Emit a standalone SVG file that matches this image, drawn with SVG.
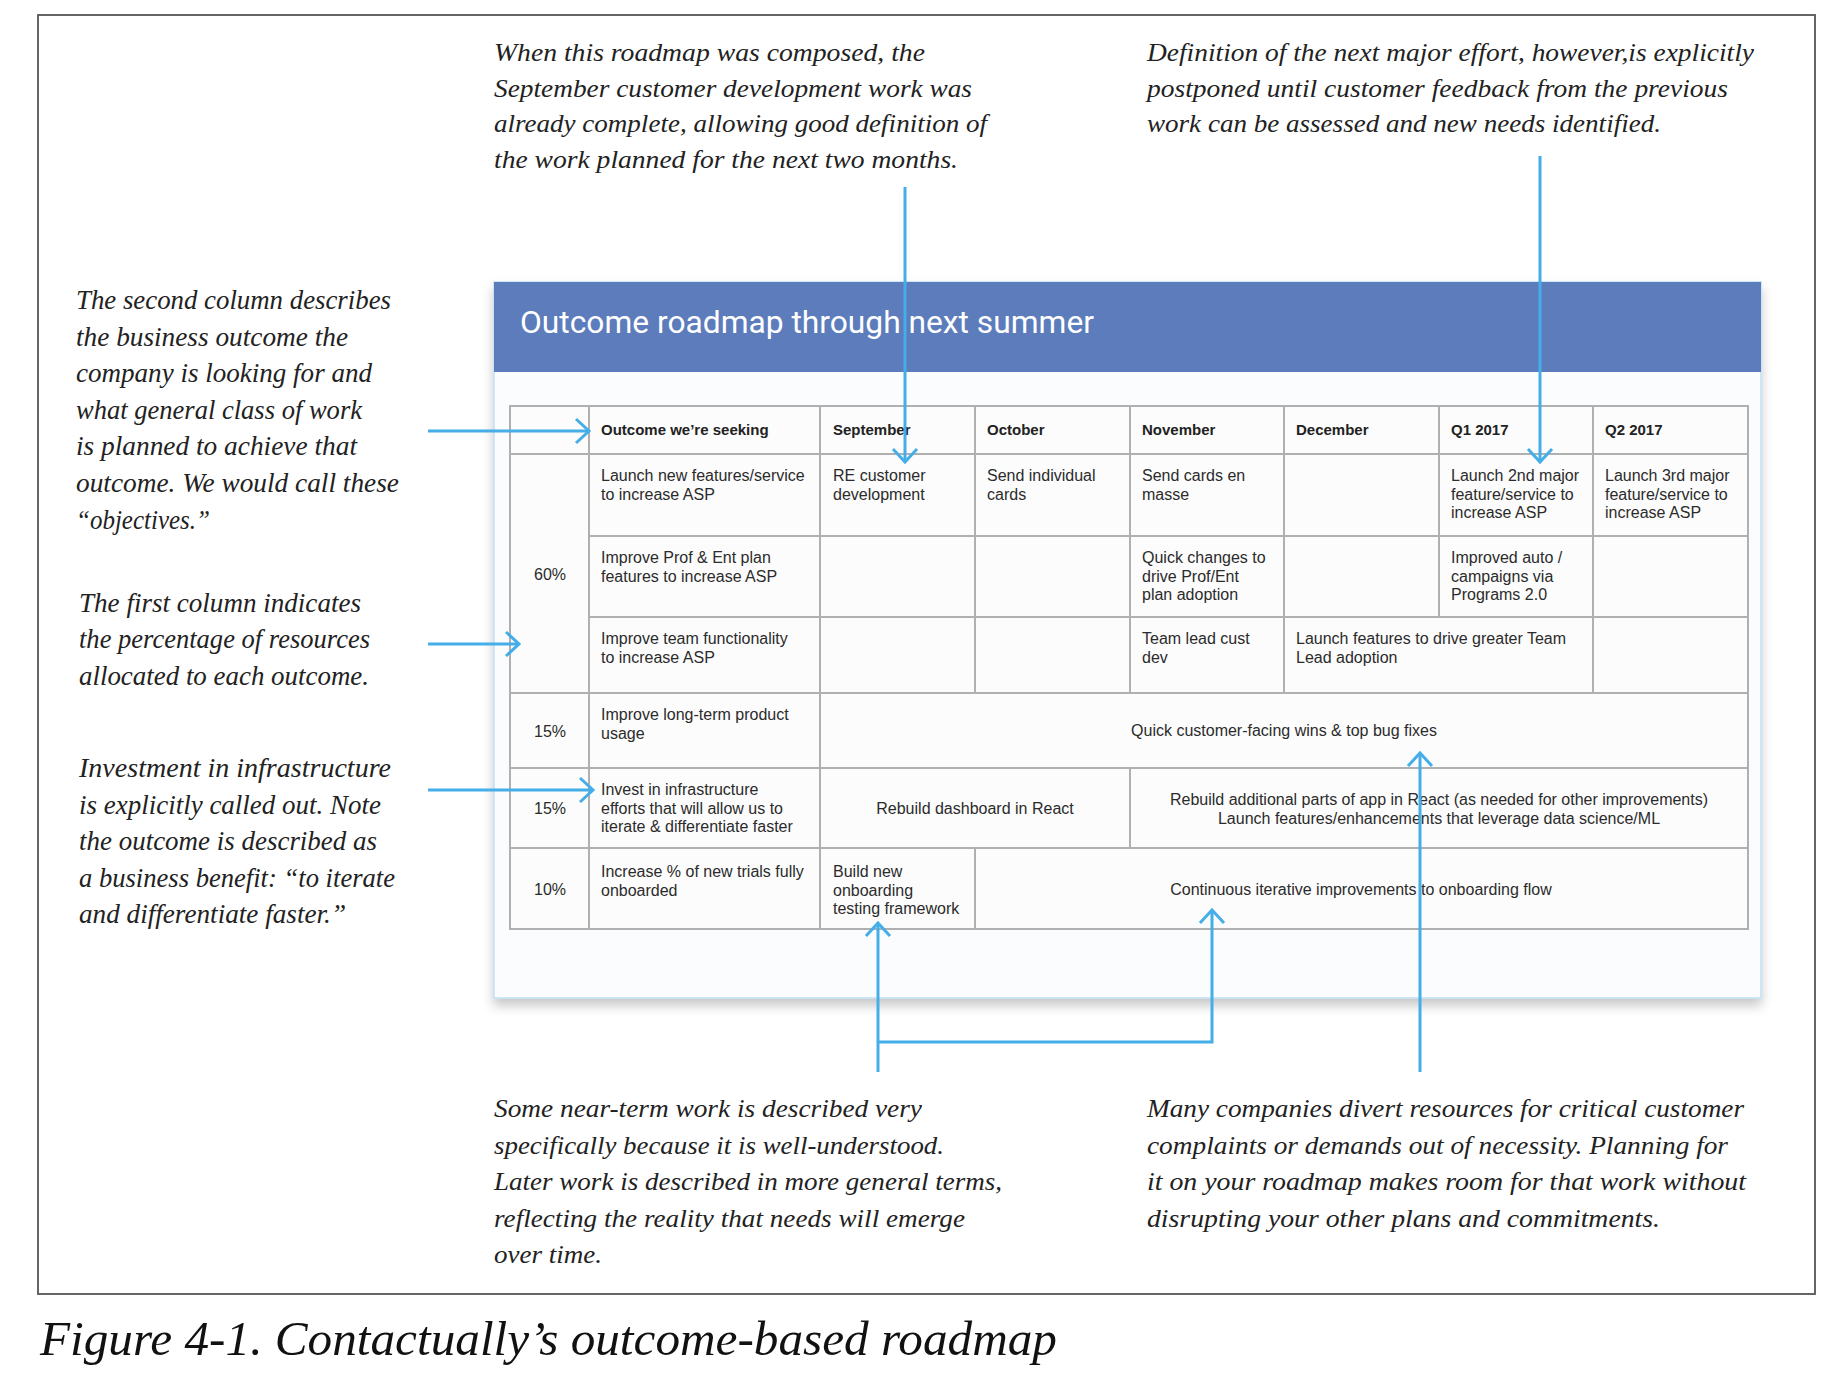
<svg xmlns="http://www.w3.org/2000/svg" width="1822" height="1374" viewBox="0 0 1822 1374">
<style>
.note{font-family:"Liberation Serif","Times New Roman",serif;font-style:italic;font-size:26px;fill:#222}
.noteL{font-family:"Liberation Serif","Times New Roman",serif;font-style:italic;font-size:27px;fill:#222}
.cap{font-family:"Liberation Serif","Times New Roman",serif;font-style:italic;font-size:48px;fill:#111}
.t{font-family:"Liberation Sans",Arial,sans-serif;font-size:16px;fill:#2b2b2b}
.th{font-family:"Liberation Sans",Arial,sans-serif;font-size:15px;font-weight:bold;fill:#222}
.c{text-anchor:middle}
.grid{stroke:#b0b0b0;stroke-width:2;fill:none}
.conn{stroke:#45aee8;stroke-width:3;fill:none}
</style>
<defs>
<marker id="chev" markerUnits="userSpaceOnUse" markerWidth="18" markerHeight="30" viewBox="-2 -3 18 30" refX="13" refY="12" orient="auto">
<path d="M0,0 L13,12 L0,24" fill="none" stroke="#45aee8" stroke-width="3"/>
</marker>
<filter id="shadow" x="-5%" y="-5%" width="110%" height="115%">
<feDropShadow dx="0" dy="7" stdDeviation="6" flood-color="#000" flood-opacity="0.22"/>
</filter>
</defs>
<rect width="1822" height="1374" fill="#ffffff"/>
<rect id="frame" x="38" y="15" width="1777" height="1279" fill="none" stroke="#555" stroke-width="1.8"/>

<g id="note-top-center">
<text class="note" x="494" y="61" textLength="431" lengthAdjust="spacingAndGlyphs">When this roadmap was composed, the</text>
<text class="note" x="494" y="96.5" textLength="478" lengthAdjust="spacingAndGlyphs">September customer development work was</text>
<text class="note" x="494" y="132" textLength="493" lengthAdjust="spacingAndGlyphs">already complete, allowing good definition of</text>
<text class="note" x="494" y="167.5" textLength="464" lengthAdjust="spacingAndGlyphs">the work planned for the next two months.</text>
</g>
<g id="note-top-right">
<text class="note" x="1147" y="61" textLength="607" lengthAdjust="spacingAndGlyphs">Definition of the next major effort, however,is explicitly</text>
<text class="note" x="1147" y="96.5" textLength="581" lengthAdjust="spacingAndGlyphs">postponed until customer feedback from the previous</text>
<text class="note" x="1147" y="132" textLength="514" lengthAdjust="spacingAndGlyphs">work can be assessed and new needs identified.</text>
</g>
<g id="note-second-column">
<text class="noteL" x="76" y="309" textLength="315" lengthAdjust="spacingAndGlyphs">The second column describes</text>
<text class="noteL" x="76" y="345.5" textLength="272" lengthAdjust="spacingAndGlyphs">the business outcome the</text>
<text class="noteL" x="76" y="382" textLength="296" lengthAdjust="spacingAndGlyphs">company is looking for and</text>
<text class="noteL" x="76" y="418.5" textLength="286" lengthAdjust="spacingAndGlyphs">what general class of work</text>
<text class="noteL" x="76" y="455" textLength="281" lengthAdjust="spacingAndGlyphs">is planned to achieve that</text>
<text class="noteL" x="76" y="491.5" textLength="323" lengthAdjust="spacingAndGlyphs">outcome. We would call these</text>
<text class="noteL" x="76" y="528.5" textLength="134" lengthAdjust="spacingAndGlyphs">“objectives.”</text>
</g>
<g id="note-first-column">
<text class="noteL" x="79" y="612" textLength="282" lengthAdjust="spacingAndGlyphs">The first column indicates</text>
<text class="noteL" x="79" y="648" textLength="291" lengthAdjust="spacingAndGlyphs">the percentage of resources</text>
<text class="noteL" x="79" y="684.5" textLength="290" lengthAdjust="spacingAndGlyphs">allocated to each outcome.</text>
</g>
<g id="note-infrastructure">
<text class="noteL" x="79" y="777" textLength="312" lengthAdjust="spacingAndGlyphs">Investment in infrastructure</text>
<text class="noteL" x="79" y="813.5" textLength="302" lengthAdjust="spacingAndGlyphs">is explicitly called out. Note</text>
<text class="noteL" x="79" y="850" textLength="298" lengthAdjust="spacingAndGlyphs">the outcome is described as</text>
<text class="noteL" x="79" y="887" textLength="316" lengthAdjust="spacingAndGlyphs">a business benefit: “to iterate</text>
<text class="noteL" x="79" y="923" textLength="267" lengthAdjust="spacingAndGlyphs">and differentiate faster.”</text>
</g>
<g id="note-bottom-left">
<text class="note" x="494" y="1117" textLength="428" lengthAdjust="spacingAndGlyphs">Some near-term work is described very</text>
<text class="note" x="494" y="1153.5" textLength="450" lengthAdjust="spacingAndGlyphs">specifically because it is well-understood.</text>
<text class="note" x="494" y="1190" textLength="508" lengthAdjust="spacingAndGlyphs">Later work is described in more general terms,</text>
<text class="note" x="494" y="1226.5" textLength="471" lengthAdjust="spacingAndGlyphs">reflecting the reality that needs will emerge</text>
<text class="note" x="494" y="1263" textLength="108" lengthAdjust="spacingAndGlyphs">over time.</text>
</g>
<g id="note-bottom-right">
<text class="note" x="1147" y="1117" textLength="597" lengthAdjust="spacingAndGlyphs">Many companies divert resources for critical customer</text>
<text class="note" x="1147" y="1153.5" textLength="581" lengthAdjust="spacingAndGlyphs">complaints or demands out of necessity. Planning for</text>
<text class="note" x="1147" y="1190" textLength="599" lengthAdjust="spacingAndGlyphs">it on your roadmap makes room for that work without</text>
<text class="note" x="1147" y="1226.5" textLength="513" lengthAdjust="spacingAndGlyphs">disrupting your other plans and commitments.</text>
</g>

<g id="roadmap-card">
<rect x="494" y="282" width="1267" height="716" fill="#fbfcfd" stroke="#bfe0f5" stroke-width="1.5" filter="url(#shadow)"/>
<rect x="494" y="282" width="1267" height="90" fill="#5c7cbc"/>
<text x="520" y="333" font-family="Roboto,'Liberation Sans',sans-serif" font-size="31" fill="#ffffff" textLength="574" lengthAdjust="spacingAndGlyphs">Outcome roadmap through next summer</text>
<rect x="510" y="406" width="1238" height="523" fill="#fcfcfc"/>
<g class="grid">
<rect x="510" y="406" width="1238" height="523"/>
<path d="M510,454H1748 M589,536H1748 M589,617H1748 M510,693H1748 M510,768H1748 M510,848H1748"/>
<path d="M589,406V929 M820,406V929 M975,406V693 M975,848V929 M1130,406V693 M1130,768V848 M1284,406V693 M1439,406V617 M1593,406V693"/>
</g>
<g id="header-row">
<text class="th" x="601" y="435">Outcome we’re seeking</text>
<text class="th" x="833" y="435">September</text>
<text class="th" x="987" y="435">October</text>
<text class="th" x="1142" y="435">November</text>
<text class="th" x="1296" y="435">December</text>
<text class="th" x="1451" y="435">Q1 2017</text>
<text class="th" x="1605" y="435">Q2 2017</text>
</g>
<g id="row-60">
<text class="t c" x="550" y="580">60%</text>
<text class="t" x="601" y="481">Launch new features/service</text>
<text class="t" x="601" y="499.5">to increase ASP</text>
<text class="t" x="833" y="481">RE customer</text>
<text class="t" x="833" y="499.5">development</text>
<text class="t" x="987" y="481">Send individual</text>
<text class="t" x="987" y="499.5">cards</text>
<text class="t" x="1142" y="481">Send cards en</text>
<text class="t" x="1142" y="499.5">masse</text>
<text class="t" x="1451" y="481">Launch 2nd major</text>
<text class="t" x="1451" y="499.5">feature/service to</text>
<text class="t" x="1451" y="518">increase ASP</text>
<text class="t" x="1605" y="481">Launch 3rd major</text>
<text class="t" x="1605" y="499.5">feature/service to</text>
<text class="t" x="1605" y="518">increase ASP</text>
<text class="t" x="601" y="563">Improve Prof &amp; Ent plan</text>
<text class="t" x="601" y="581.5">features to increase ASP</text>
<text class="t" x="1142" y="563">Quick changes to</text>
<text class="t" x="1142" y="581.5">drive Prof/Ent</text>
<text class="t" x="1142" y="600">plan adoption</text>
<text class="t" x="1451" y="563">Improved auto /</text>
<text class="t" x="1451" y="581.5">campaigns via</text>
<text class="t" x="1451" y="600">Programs 2.0</text>
<text class="t" x="601" y="644">Improve team functionality</text>
<text class="t" x="601" y="662.5">to increase ASP</text>
<text class="t" x="1142" y="644">Team lead cust</text>
<text class="t" x="1142" y="662.5">dev</text>
<text class="t" x="1296" y="644">Launch features to drive greater Team</text>
<text class="t" x="1296" y="662.5">Lead adoption</text>
</g>
<g id="row-15a">
<text class="t c" x="550" y="737">15%</text>
<text class="t" x="601" y="720">Improve long-term product</text>
<text class="t" x="601" y="738.5">usage</text>
<text class="t c" x="1284" y="736">Quick customer-facing wins &amp; top bug fixes</text>
</g>
<g id="row-15b">
<text class="t c" x="550" y="814">15%</text>
<text class="t" x="601" y="795">Invest in infrastructure</text>
<text class="t" x="601" y="813.5">efforts that will allow us to</text>
<text class="t" x="601" y="832">iterate &amp; differentiate faster</text>
<text class="t c" x="975" y="814">Rebuild dashboard in React</text>
<text class="t c" x="1439" y="805">Rebuild additional parts of app in React (as needed for other improvements)</text>
<text class="t c" x="1439" y="824">Launch features/enhancements that leverage data science/ML</text>
</g>
<g id="row-10">
<text class="t c" x="550" y="895">10%</text>
<text class="t" x="601" y="877">Increase % of new trials fully</text>
<text class="t" x="601" y="895.5">onboarded</text>
<text class="t" x="833" y="877">Build new</text>
<text class="t" x="833" y="895.5">onboarding</text>
<text class="t" x="833" y="914">testing framework</text>
<text class="t c" x="1361" y="895">Continuous iterative improvements to onboarding flow</text>
</g>
</g>

<g id="connectors">
<path class="conn" d="M428,431H589" marker-end="url(#chev)"/>
<path class="conn" d="M428,644H519" marker-end="url(#chev)"/>
<path class="conn" d="M428,790H593" marker-end="url(#chev)"/>
<path class="conn" d="M905,187V462" marker-end="url(#chev)"/>
<path class="conn" d="M1540,156V462" marker-end="url(#chev)"/>
<path class="conn" d="M878,1072V923" marker-end="url(#chev)"/>
<path class="conn" d="M878,1042H1212V910" marker-end="url(#chev)"/>
<path class="conn" d="M1420,1072V753" marker-end="url(#chev)"/>
</g>

<g id="caption">
<text class="cap" x="40" y="1355" textLength="1017" lengthAdjust="spacingAndGlyphs">Figure 4-1. Contactually’s outcome-based roadmap</text>
</g>
</svg>
